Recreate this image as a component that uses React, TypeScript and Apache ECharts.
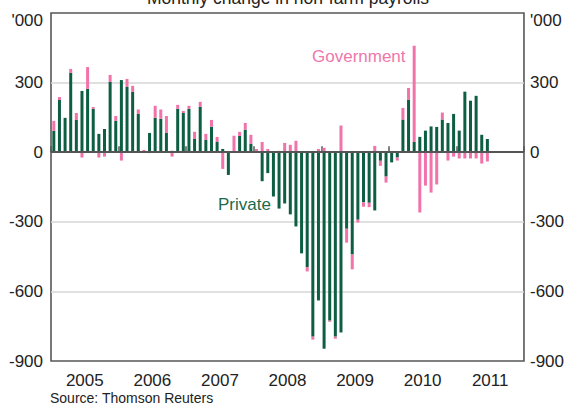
import React, { useEffect, useRef } from "react";
import * as echarts from "echarts";

const years = ["2005", "2006", "2007", "2008", "2009", "2010", "2011"];

// Private payrolls, monthly change ('000), Jan 2005 – Jun 2011
const privateChange = [
  92, 225, 148, 342, 139, 264, 273, 187, 79, 100, 303, 135,
  311, 281, 260, 165, 3, 83, 148, 144, 83, 6, 187, 169,
  187, 57, 195, 53, 110, 44, 14, -98, 2, 70, 97, 37,
  2, -125, -90, -191, -243, -221, -268, -320, -436, -495, -795, -639,
  -847, -726, -795, -777, -330, -441, -291, -216, -218, -251, -37, -105,
  -44, -23, 141, 227, 44, 66, 93, 111, 109, 141, 126, 165,
  93, 261, 222, 243, 75, 57,
];

// Government payrolls, monthly change ('000)
const governmentChange = [
  43, 13, -3, 17, 30, -23, 94, 8, -23, -19, 30, 21,
  -36, 35, 26, 19, 7, -4, 52, 40, 73, -19, 17, 9,
  13, 31, 22, 26, 29, 22, -72, 0, 69, 18, 29, 38,
  12, 44, 14, 3, 6, 40, 32, 49, 0, -19, -13, 14,
  19, -5, -9, 115, -60, -64, -12, -19, -19, 27, -22, -26,
  0, -13, 50, 50, 415, -260, -144, -174, -139, 30, -36, -19,
  -27, -27, -27, -27, -49, -40,
];

const yTicks = [-900, -600, -300, 0, 300, 600];

const monthNames = ["Jan", "Feb", "Mar", "Apr", "May", "Jun", "Jul", "Aug", "Sep", "Oct", "Nov", "Dec"];
const months: string[] = [];
years.forEach((y) => monthNames.forEach((m) => months.push(m + " " + y)));

const GREEN = "#0d5e43";
const PINK = "#f173aa";
const FONT = "Liberation Sans, Arial, sans-serif";

export default function App() {
  const ref = useRef<HTMLDivElement>(null);
  useEffect(() => {
    if (!ref.current) return;
    const chart = echarts.init(ref.current, null, { renderer: "svg" });
    const yAxisBase = {
      type: "value",
      min: yTicks[0],
      max: yTicks[yTicks.length - 1],
      interval: 300,
      axisLine: { show: false },
      axisTick: { show: false },
    };
    chart.setOption({
      animation: false,
      backgroundColor: "#ffffff",
      textStyle: { fontFamily: FONT },
      grid: {
        left: 51,
        right: 43,
        top: 13,
        bottom: 44,
        show: true,
        borderColor: "#575757",
        borderWidth: 1.6,
        backgroundColor: "transparent",
      },
      xAxis: [
        {
          type: "category",
          data: months,
          position: "bottom",
          show: false,
        },
        {
          type: "category",
          data: years,
          position: "bottom",
          boundaryGap: true,
          axisLine: { show: false },
          axisTick: {
            show: true,
            inside: true,
            length: 6,
            interval: 0,
            lineStyle: { color: "#575757", width: 1.5 },
          },
          axisLabel: {
            color: "#222",
            fontSize: 17,
            fontFamily: FONT,
            margin: 11,
            interval: 0,
          },
        },
      ],
      yAxis: [
        {
          ...yAxisBase,
          position: "left",
          axisLabel: {
            color: "#222",
            fontSize: 17,
            fontFamily: FONT,
            margin: 8,
            formatter: (v: number) => (v === 600 ? "" : String(v)),
          },
          splitLine: {
            show: true,
            showMinLine: false,
            showMaxLine: false,
            lineStyle: { color: "#d6d6d6", width: 1.6 },
          },
        },
        {
          ...yAxisBase,
          position: "right",
          axisLabel: {
            color: "#222",
            fontSize: 17,
            fontFamily: FONT,
            margin: 6,
            formatter: (v: number) => (v === 600 ? "" : String(v)),
          },
          splitLine: { show: false },
        },
      ],
      series: [
        {
          name: "Private",
          type: "bar",
          stack: "payrolls",
          xAxisIndex: 0,
          yAxisIndex: 0,
          data: privateChange,
          barWidth: 3,
          itemStyle: { color: GREEN },
          markLine: {
            silent: true,
            symbol: "none",
            label: { show: false },
            lineStyle: { color: "#555", width: 2, type: "solid" },
            data: [{ yAxis: 0 }],
          },
        },
        {
          name: "Government",
          type: "bar",
          stack: "payrolls",
          xAxisIndex: 0,
          yAxisIndex: 0,
          data: governmentChange,
          barWidth: 3,
          itemStyle: { color: PINK },
        },
      ],
      graphic: [
        {
          type: "text",
          x: 288,
          y: -2,
          style: {
            text: "Monthly change in non-farm payrolls",
            fill: "#222",
            font: `17.5px ${FONT}`,
            textAlign: "center",
            textVerticalAlign: "middle",
          },
        },
        {
          type: "text",
          x: 43,
          y: 20,
          style: {
            text: "'000",
            fill: "#222",
            font: `17px ${FONT}`,
            textAlign: "right",
            textVerticalAlign: "middle",
          },
        },
        {
          type: "text",
          x: 530,
          y: 20,
          style: {
            text: "'000",
            fill: "#222",
            font: `17px ${FONT}`,
            textAlign: "left",
            textVerticalAlign: "middle",
          },
        },
        {
          type: "text",
          x: 312,
          y: 56,
          style: {
            text: "Government",
            fill: "#ee77ab",
            font: `17px ${FONT}`,
            textAlign: "left",
            textVerticalAlign: "middle",
          },
        },
        {
          type: "text",
          x: 218,
          y: 204,
          style: {
            text: "Private",
            fill: "#1d6a4d",
            font: `17px ${FONT}`,
            textAlign: "left",
            textVerticalAlign: "middle",
          },
        },
        {
          type: "text",
          x: 50,
          y: 398,
          style: {
            text: "Source: Thomson Reuters",
            fill: "#222",
            font: `14px ${FONT}`,
            textAlign: "left",
            textVerticalAlign: "middle",
          },
        },
      ],
    });
    return () => chart.dispose();
  }, []);
  return (
    <div
      ref={ref}
      style={{ position: "fixed", left: 0, top: 0, width: 567, height: 405, background: "#fff" }}
    />
  );
}
